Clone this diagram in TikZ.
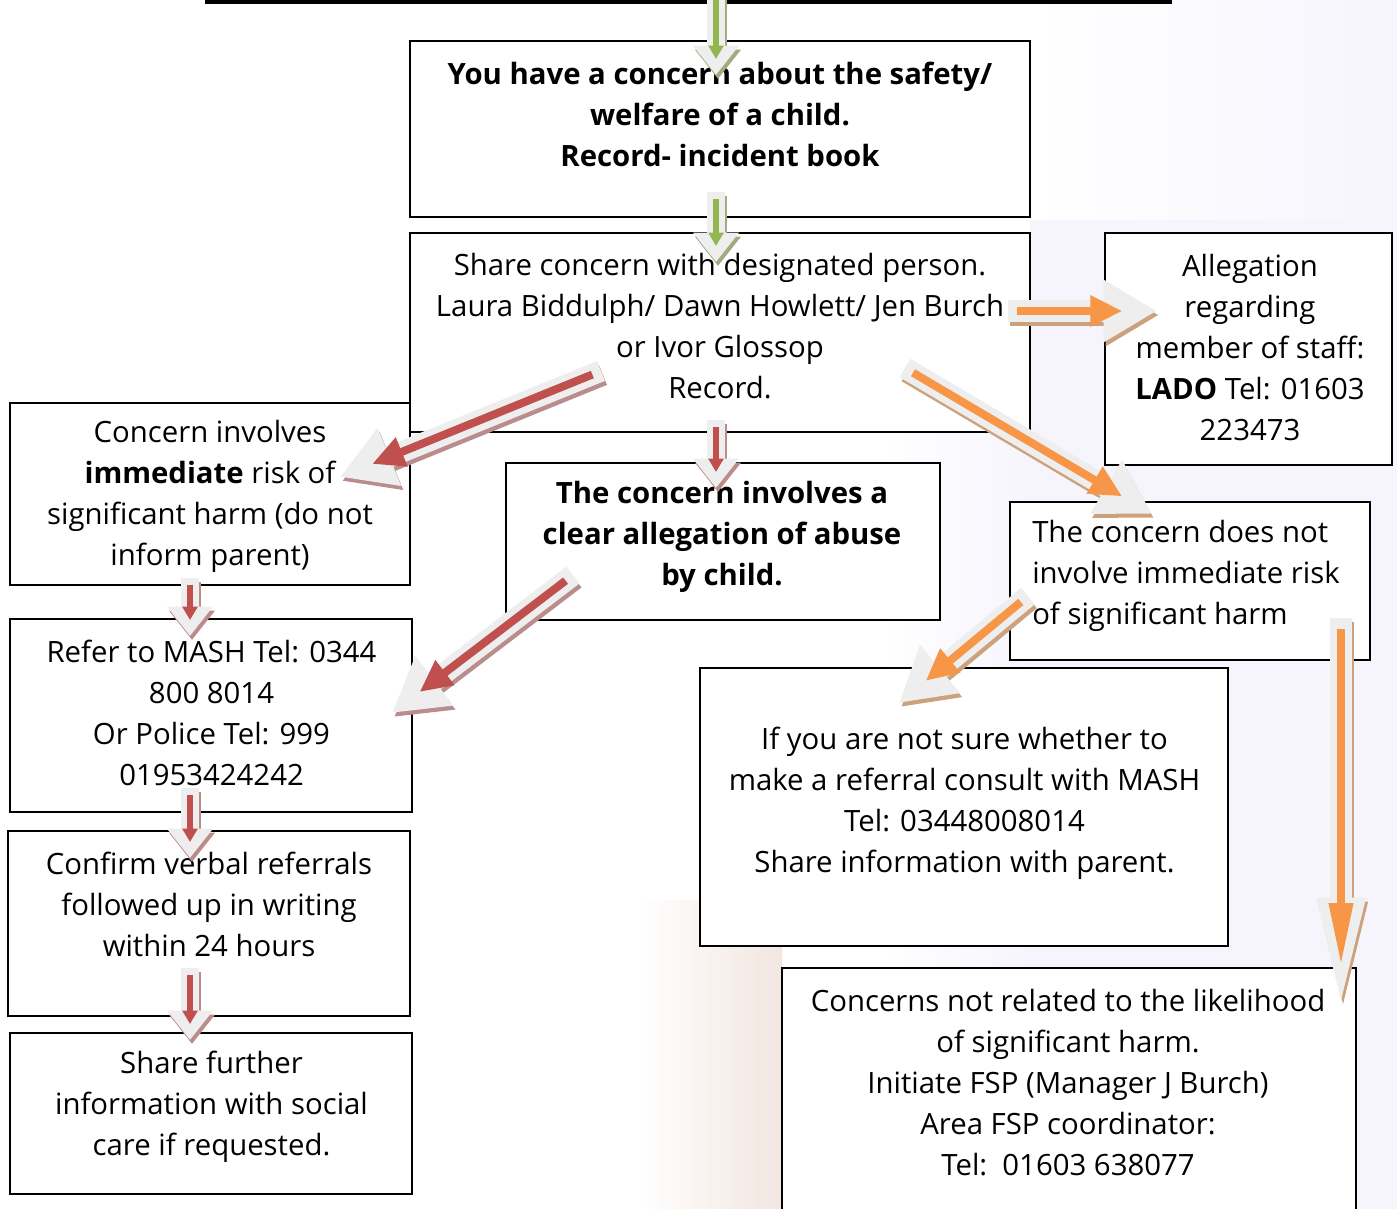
\documentclass[tikz,border=0pt]{standalone}
\usepackage{fontspec}
\setmainfont{Open Sans}
\usetikzlibrary{arrows.meta}

\definecolor{arrowred}{RGB}{192,80,77}
\definecolor{arrowgreen}{RGB}{146,182,80}
\definecolor{arroworange}{RGB}{247,150,70}
\definecolor{shadowred}{RGB}{186,140,140}
\definecolor{shadowgreen}{RGB}{160,172,128}
\definecolor{shadoworange}{RGB}{204,162,124}
\definecolor{halogray}{RGB}{238,238,238}
\definecolor{lavenderbg}{RGB}{246,245,253}
\definecolor{greenbg}{RGB}{241,249,236}
\definecolor{pinkbg}{RGB}{242,230,224}

\begin{document}
\begin{tikzpicture}[x=0.75pt,y=0.75pt,yscale=-1,xscale=1,
	flowbox/.style={draw=black, line width=1.3pt, fill=white, inner sep=0pt},
	flowtext/.style={align=center, inner sep=0pt, font=\fontsize{22}{30.75}\selectfont},
	smallribbon/.style 2 args={draw=halogray, line width=13pt, -{Triangle[length=22pt,width=33pt]},
		preaction={draw=#2, line width=13pt, -{Triangle[length=22pt,width=33pt]}, transform canvas={shift={(1.5pt,-3pt)}}},
		postaction={draw=#1, line width=4.5pt, shorten <=5pt, shorten >=12pt, -{Triangle[length=10pt,width=11pt]}}},
	bigribbon/.style 2 args={draw=halogray, line width=16pt, -{Triangle[length=40pt,width=44pt]},
		preaction={draw=#2, line width=16pt, -{Triangle[length=40pt,width=44pt]}, transform canvas={shift={(1.5pt,-3pt)}}},
		postaction={draw=#1, line width=6pt, shorten <=7pt, shorten >=26pt, -{Triangle[length=24pt,width=22pt]}}},
	longribbon/.style 2 args={draw=halogray, line width=16pt, -{Triangle[length=88pt,width=32pt]},
		preaction={draw=#2, line width=16pt, -{Triangle[length=88pt,width=32pt]}, transform canvas={shift={(1.5pt,-3pt)}}},
		postaction={draw=#1, line width=6pt, shorten <=8pt, shorten >=37pt, -{Triangle[length=47pt,width=17pt]}}}]

	\useasboundingbox (0,0) rectangle (1397,1209);

	%Background tint
	\shade[left color=white, right color=lavenderbg] (1030,0) rectangle (1397,220);
	\fill[lavenderbg] (1030,220) rectangle (1397,1209);
	\shade[left color=white, right color=lavenderbg] (880,430) rectangle (1030,1209);
	\shade[left color=white, middle color=greenbg, right color=white] (700,0) rectangle (980,240);
	\shade[left color=white, middle color=greenbg, right color=pinkbg] (640,900) rectangle (782,1209);

	%Title underline
	\draw[line width=2.5pt] (205,2) -- (1172,2);

	%Boxes
	\node[flowbox, minimum width=465pt, minimum height=132pt] (concern) at (720,129) {};
	\node[flowbox, minimum width=465pt, minimum height=149.25pt] (share) at (720,332.5) {};
	\node[flowbox, minimum width=215.25pt, minimum height=174pt] (lado) at (1248.5,349) {};
	\node[flowbox, minimum width=300pt, minimum height=136.5pt] (immediate) at (210,494) {};
	\node[flowbox, minimum width=325.5pt, minimum height=117.75pt] (abuse) at (723,541.5) {};
	\node[flowbox, minimum width=270pt, minimum height=118.5pt] (notimmediate) at (1190,581) {};
	\node[flowbox, minimum width=301.5pt, minimum height=144.75pt] (mash) at (211,715.5) {};
	\node[flowbox, minimum width=396pt, minimum height=208.5pt] (unsure) at (964,807) {};
	\node[flowbox, minimum width=301.5pt, minimum height=138.75pt] (confirm) at (209,923.5) {};
	\node[flowbox, minimum width=301.5pt, minimum height=120.75pt] (further) at (211,1113.5) {};
	\node[flowbox, minimum width=430.5pt, minimum height=198pt] (fsp) at (1069,1100) {};

	% Text Node
	\node[flowtext, font=\fontsize{22}{30.75}\selectfont\bfseries] (concernText) at (720,114)
		{You have a concern about the safety/\\welfare of a child.\\Record- incident book};
	\node[flowtext] (shareText) at (720,326.5)
		{Share concern with designated person.\\Laura Biddulph/ Dawn Howlett/ Jen Burch\\or Ivor Glossop\\Record.};
	\node[flowtext] (ladoText) at (1250,347)
		{Allegation\\regarding\\member of staff:\\\textbf{LADO} Tel: 01603\\223473};
	\node[flowtext] (immediateText) at (210,496.5)
		{Concern involves\\\textbf{immediate} risk of\\significant harm (do not\\inform parent)};
	\node[flowtext, font=\fontsize{22}{30.75}\selectfont\bfseries] (abuseText) at (722,537)
		{The concern involves a\\clear allegation of abuse\\by child.};
	\node[flowtext, align=left, anchor=west] (notimmediateText) at (1032,576)
		{The concern does not\\involve immediate risk\\of significant harm};
	\node[flowtext] (mashText) at (211.5,712.5)
		{Refer to MASH Tel: 0344\\800 8014\\Or Police Tel: 999\\01953424242};
	\node[flowtext] (unsureText) at (964.5,803)
		{If you are not sure whether to\\make a referral consult with MASH\\Tel: 03448008014\\Share information with parent.};
	\node[flowtext] (confirmText) at (209,904)
		{Confirm verbal referrals\\followed up in writing\\within 24 hours};
	\node[flowtext] (furtherText) at (211.5,1107)
		{Share further\\information with social\\care if requested.};
	\node[flowtext] (fspText) at (1068,1082.5)
		{Concerns not related to the likelihood\\of significant harm.\\Initiate FSP (Manager J Burch)\\Area FSP coordinator:\\Tel:\ \ 01603 638077};

	%Arrow ends
	\coordinate (titleOut) at (716,-10);
	\coordinate (concernIn) at (716,75);
	\coordinate (concernOut) at (716,192);
	\coordinate (shareIn) at (716,262);
	\coordinate (shareLeft) at (601,371);
	\coordinate (immediateIn) at (340,477);
	\coordinate (shareDown) at (716,420);
	\coordinate (abuseIn) at (716,488);
	\coordinate (abuseOut) at (573,575);
	\coordinate (mashSide) at (392,713);
	\coordinate (immediateOut) at (190,578);
	\coordinate (mashIn) at (190,636);
	\coordinate (mashOut) at (190,788);
	\coordinate (confirmIn) at (190,858);
	\coordinate (confirmOut) at (190,968);
	\coordinate (furtherIn) at (190,1040);
	\coordinate (shareRight) at (1008,311);
	\coordinate (ladoIn) at (1157,311);
	\coordinate (shareDiag) at (905,368);
	\coordinate (notimmediateIn) at (1152,514);
	\coordinate (notimmediateOut) at (1028,596);
	\coordinate (unsureIn) at (899,703);
	\coordinate (notimmediateDown) at (1341,618);
	\coordinate (fspIn) at (1341,1015);

	%Straight Lines
	\draw[smallribbon={arrowgreen}{shadowgreen}] (titleOut) -- (concernIn);
	\draw[smallribbon={arrowgreen}{shadowgreen}] (concernOut) -- (shareIn);
	\draw[bigribbon={arrowred}{shadowred}] (shareLeft) -- (immediateIn);
	\draw[smallribbon={arrowred}{shadowred}] (shareDown) -- (abuseIn);
	\draw[bigribbon={arrowred}{shadowred}] (abuseOut) -- (mashSide);
	\draw[smallribbon={arrowred}{shadowred}] (immediateOut) -- (mashIn);
	\draw[smallribbon={arrowred}{shadowred}] (mashOut) -- (confirmIn);
	\draw[smallribbon={arrowred}{shadowred}] (confirmOut) -- (furtherIn);
	\draw[bigribbon={arroworange}{shadoworange}] (shareRight) -- (ladoIn);
	\draw[bigribbon={arroworange}{shadoworange}] (shareDiag) -- (notimmediateIn);
	\draw[bigribbon={arroworange}{shadoworange}] (notimmediateOut) -- (unsureIn);
	\draw[longribbon={arroworange}{shadoworange}] (notimmediateDown) -- (fspIn);

\end{tikzpicture}
\end{document}
